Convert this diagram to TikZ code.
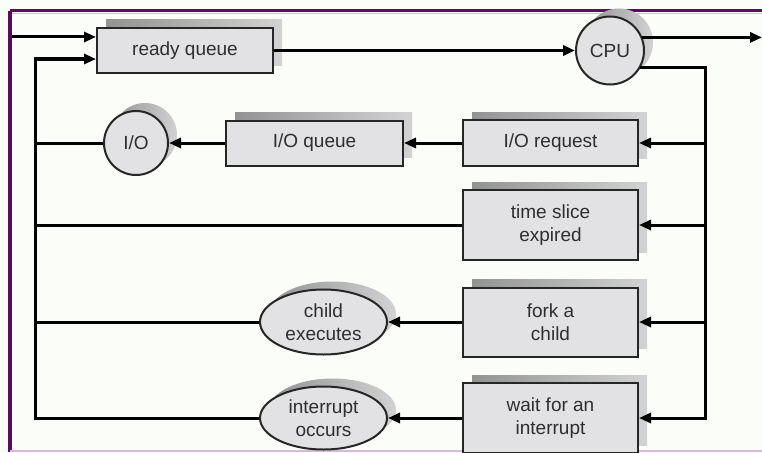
\documentclass[tikz,border=0pt]{standalone}
\usepackage{fontspec}
\setmainfont{Liberation Sans}
\usetikzlibrary{arrows.meta,shapes.geometric,shadows}
\definecolor{bg}{HTML}{FBFDF9}
\definecolor{boxfill}{HTML}{E2E2E4}
\definecolor{txt}{HTML}{2E2E2E}
\definecolor{framedark}{HTML}{5A0C5E}
\definecolor{framelight}{HTML}{D9B8E0}
\begin{document}
\begin{tikzpicture}[x=1pt,y=-1pt,
  line width=3pt,
  arr/.style={-{Triangle[length=12pt,width=10pt]}},
  shad/.style={general shadow={shadow xshift=9pt, shadow yshift=8pt, left color=gray!85, right color=gray!35, draw=none}},
  qbox/.style={draw=black!85, line width=2pt, fill=boxfill, rectangle, text=txt, align=center,
    font=\fontsize{19}{23}\selectfont, inner sep=0pt, shad},
  qcirc/.style={draw=black!85, line width=2pt, fill=boxfill, circle, text=txt,
    font=\fontsize{19}{23}\selectfont, inner sep=0pt, shad},
  qell/.style={draw=black!85, line width=2pt, fill=boxfill, ellipse, text=txt, align=center,
    font=\fontsize{19}{23}\selectfont, inner sep=0pt, shad}]
\fill[bg] (0,0) rectangle (762,452);
\useasboundingbox (0,0) rectangle (762,452);
% frame
\draw[framedark, line width=3pt] (10,11) -- (762,11);
\draw[framelight, line width=1pt] (10,13.5) -- (762,13.5);
\draw[framedark, line width=4pt] (10,11) -- (10,452);
\draw[framelight, line width=2pt] (10,451) -- (762,451);

% nodes
\node[qbox, minimum width=176pt, minimum height=45pt] (rq) at (185,50.5) {ready queue};
\node[qcirc, minimum size=68pt] (cpu) at (610,50.5) {CPU};
\node[qcirc, minimum size=64pt] (io) at (136,143) {I/O};
\node[qbox, minimum width=177pt, minimum height=45pt] (ioq) at (314.5,143) {I/O queue};
\node[qbox, minimum width=175pt, minimum height=46pt] (ioreq) at (550.5,143) {I/O request};
\node[qbox, minimum width=175pt, minimum height=70pt] (ts) at (550.5,225) {time slice\\expired};
\node[qbox, minimum width=175pt, minimum height=69pt] (fork) at (550.5,322) {fork a\\child};
\node[qbox, minimum width=175pt, minimum height=70pt] (wait) at (550.5,418) {wait for an\\interrupt};
\node[qell, minimum width=127pt, minimum height=65pt] (child) at (323.5,322) {child\\executes};
\node[qell, minimum width=127pt, minimum height=63pt] (intr) at (323.5,418) {interrupt\\occurs};

% coordinates
\coordinate (in1) at (12,37);
\coordinate (L) at (35,59);
\coordinate (out) at (762,38);
\coordinate (R) at (705,418);

% connectors
\draw[arr] (in1) -- (in1 -| rq.west);
\draw[arr] (rq.east) -- (cpu.west);
\draw[arr] (cpu.22) -- (cpu.22 -| out);
\draw[arr] (cpu.-30) -| (R) -- (wait.east);
\draw[arr] (R |- ioreq.east) -- (ioreq.east);
\draw[arr] (R |- ts.east) -- (ts.east);
\draw[arr] (R |- fork.east) -- (fork.east);
\draw[arr] (ioreq.west) -- (ioq.east);
\draw[arr] (ioq.west) -- (io.east);
\draw[arr] (fork.west) -- (child.east);
\draw[arr] (wait.west) -- (intr.east);
\draw (io.west) -- (io.west -| L);
\draw (ts.west) -- (ts.west -| L);
\draw (child.west) -- (child.west -| L);
\draw[arr] (intr.west) -| (L) -- (L -| rq.west);
\end{tikzpicture}
\end{document}
